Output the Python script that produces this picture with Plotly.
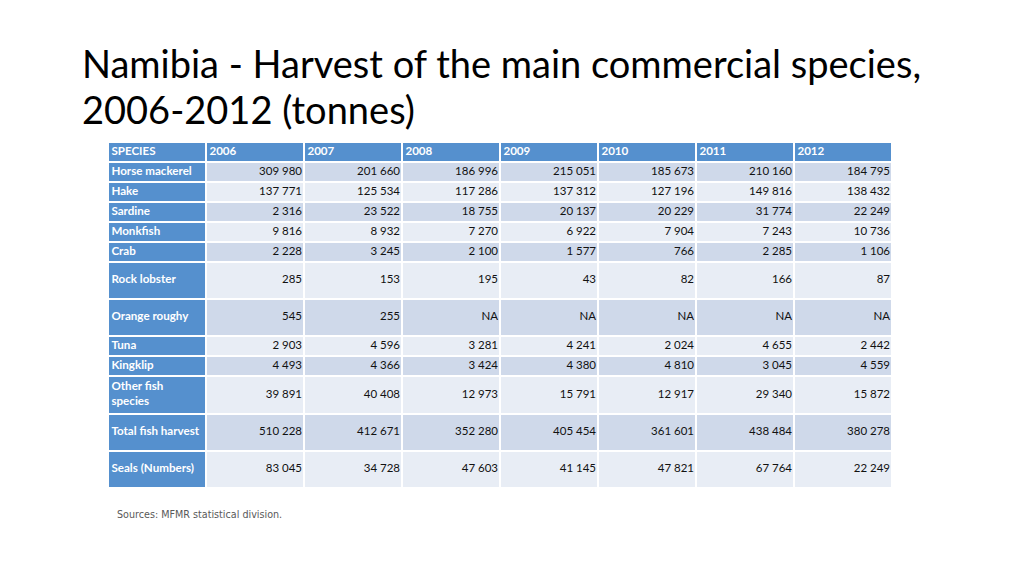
import plotly.graph_objects as go

years = ["2006", "2007", "2008", "2009", "2010", "2011", "2012"]
species = ["Horse mackerel", "Hake", "Sardine", "Monkfish", "Crab", "Rock lobster",
           "Orange roughy", "Tuna", "Kingklip", "Other fish<br>species",
           "Total fish harvest", "Seals (Numbers)"]

horse_mackerel = [309980, 201660, 186996, 215051, 185673, 210160, 184795]
hake = [137771, 125534, 117286, 137312, 127196, 149816, 138432]
sardine = [2316, 23522, 18755, 20137, 20229, 31774, 22249]
monkfish = [9816, 8932, 7270, 6922, 7904, 7243, 10736]
crab = [2228, 3245, 2100, 1577, 766, 2285, 1106]
rock_lobster = [285, 153, 195, 43, 82, 166, 87]
orange_roughy = [545, 255, None, None, None, None, None]
tuna = [2903, 4596, 3281, 4241, 2024, 4655, 2442]
kingklip = [4493, 4366, 3424, 4380, 4810, 3045, 4559]
other_fish = [39891, 40408, 12973, 15791, 12917, 29340, 15872]
total_fish = [510228, 412671, 352280, 405454, 361601, 438484, 380278]
seals = [83045, 34728, 47603, 41145, 47821, 67764, 22249]

values = [horse_mackerel, hake, sardine, monkfish, crab, rock_lobster,
          orange_roughy, tuna, kingklip, other_fish, total_fish, seals]

title_lines = ["Namibia - Harvest of the main commercial species,", "2006-2012 (tonnes)"]

# row heights in "line" units (header first), tall rows as in the slide
row_units = [1, 1, 1, 1, 1, 1, 1.85, 1.85, 1, 1, 1.9, 1.85, 1.85]

HEAD = "#5590CE"
BAND_DARK = "#CFD9EA"
BAND_LIGHT = "#E8EDF5"

# the page adds an 8px body margin, so positions are shifted back by that
OFF = 8
W, H = 1024, 576


def fmt(v):
    if v is None:
        return "NA"
    return f"{v:,}".replace(",", " ")


y_edges = [0]
for h in row_units:
    y_edges.append(y_edges[-1] + h)
y_mid = [(y_edges[i] + y_edges[i + 1]) / 2 for i in range(len(row_units))]
ncol = len(years) + 1
x_edges = list(range(ncol + 1))

# color code per cell: 0 = blue, 1 = dark band, 2 = light band
z = [[0] * ncol]
for i in range(len(species)):
    band = 1 if i % 2 == 0 else 2
    z.append([0] + [band] * len(years))

fig = go.Figure()
fig.add_trace(go.Heatmap(
    x=x_edges, y=y_edges, z=z,
    colorscale=[[0, HEAD], [0.5, BAND_DARK], [1, BAND_LIGHT]],
    zmin=0, zmax=2, showscale=False, xgap=2, ygap=2, hoverinfo="skip"
))

label_font = dict(family="Lato", size=11.6, color="white", weight="bold")

# header text
fig.add_trace(go.Scatter(
    x=[c + 0.035 for c in range(ncol)], y=[y_mid[0]] * ncol,
    text=["SPECIES"] + years, mode="text", textposition="middle right",
    textfont=label_font, hoverinfo="skip"
))
# species column
fig.add_trace(go.Scatter(
    x=[0.035] * len(species), y=y_mid[1:],
    text=species, mode="text", textposition="middle right",
    textfont=label_font, hoverinfo="skip"
))
# numbers
xs, ys, ts = [], [], []
for i, row in enumerate(values):
    for j, v in enumerate(row):
        xs.append(j + 2 - 0.02)
        ys.append(y_mid[i + 1])
        ts.append(fmt(v))
fig.add_trace(go.Scatter(
    x=xs, y=ys, text=ts, mode="text", textposition="middle left",
    textfont=dict(family="Lato", size=11.5, color="#111111"),
    hoverinfo="skip"
))

fig.update_xaxes(range=[0, ncol], domain=[(108 - OFF) / W, (892 - OFF) / W],
                 visible=False, fixedrange=True)
fig.update_yaxes(range=[y_edges[-1], 0], domain=[1 - (488 - OFF) / H, 1 - (142 - OFF) / H],
                 visible=False, fixedrange=True)

for k, line in enumerate(title_lines):
    fig.add_annotation(
        text=line, x=(80 - OFF) / W, y=1 - (38 + 46 * k - OFF) / H,
        xref="paper", yref="paper", xanchor="left", yanchor="top", align="left",
        showarrow=False, font=dict(family="Lato", size=38, color="black")
    )
fig.add_annotation(
    text="Sources: MFMR statistical division.",
    x=(115 - OFF) / W, y=1 - (514 - OFF) / H, xref="paper", yref="paper",
    xanchor="left", yanchor="middle", showarrow=False,
    font=dict(family="DejaVu Sans", size=9.6, color="#595959")
)

fig.update_layout(
    width=W, height=H, margin=dict(l=0, r=0, t=0, b=0),
    plot_bgcolor="white", paper_bgcolor="white", showlegend=False
)
fig.write_html("out.html")
